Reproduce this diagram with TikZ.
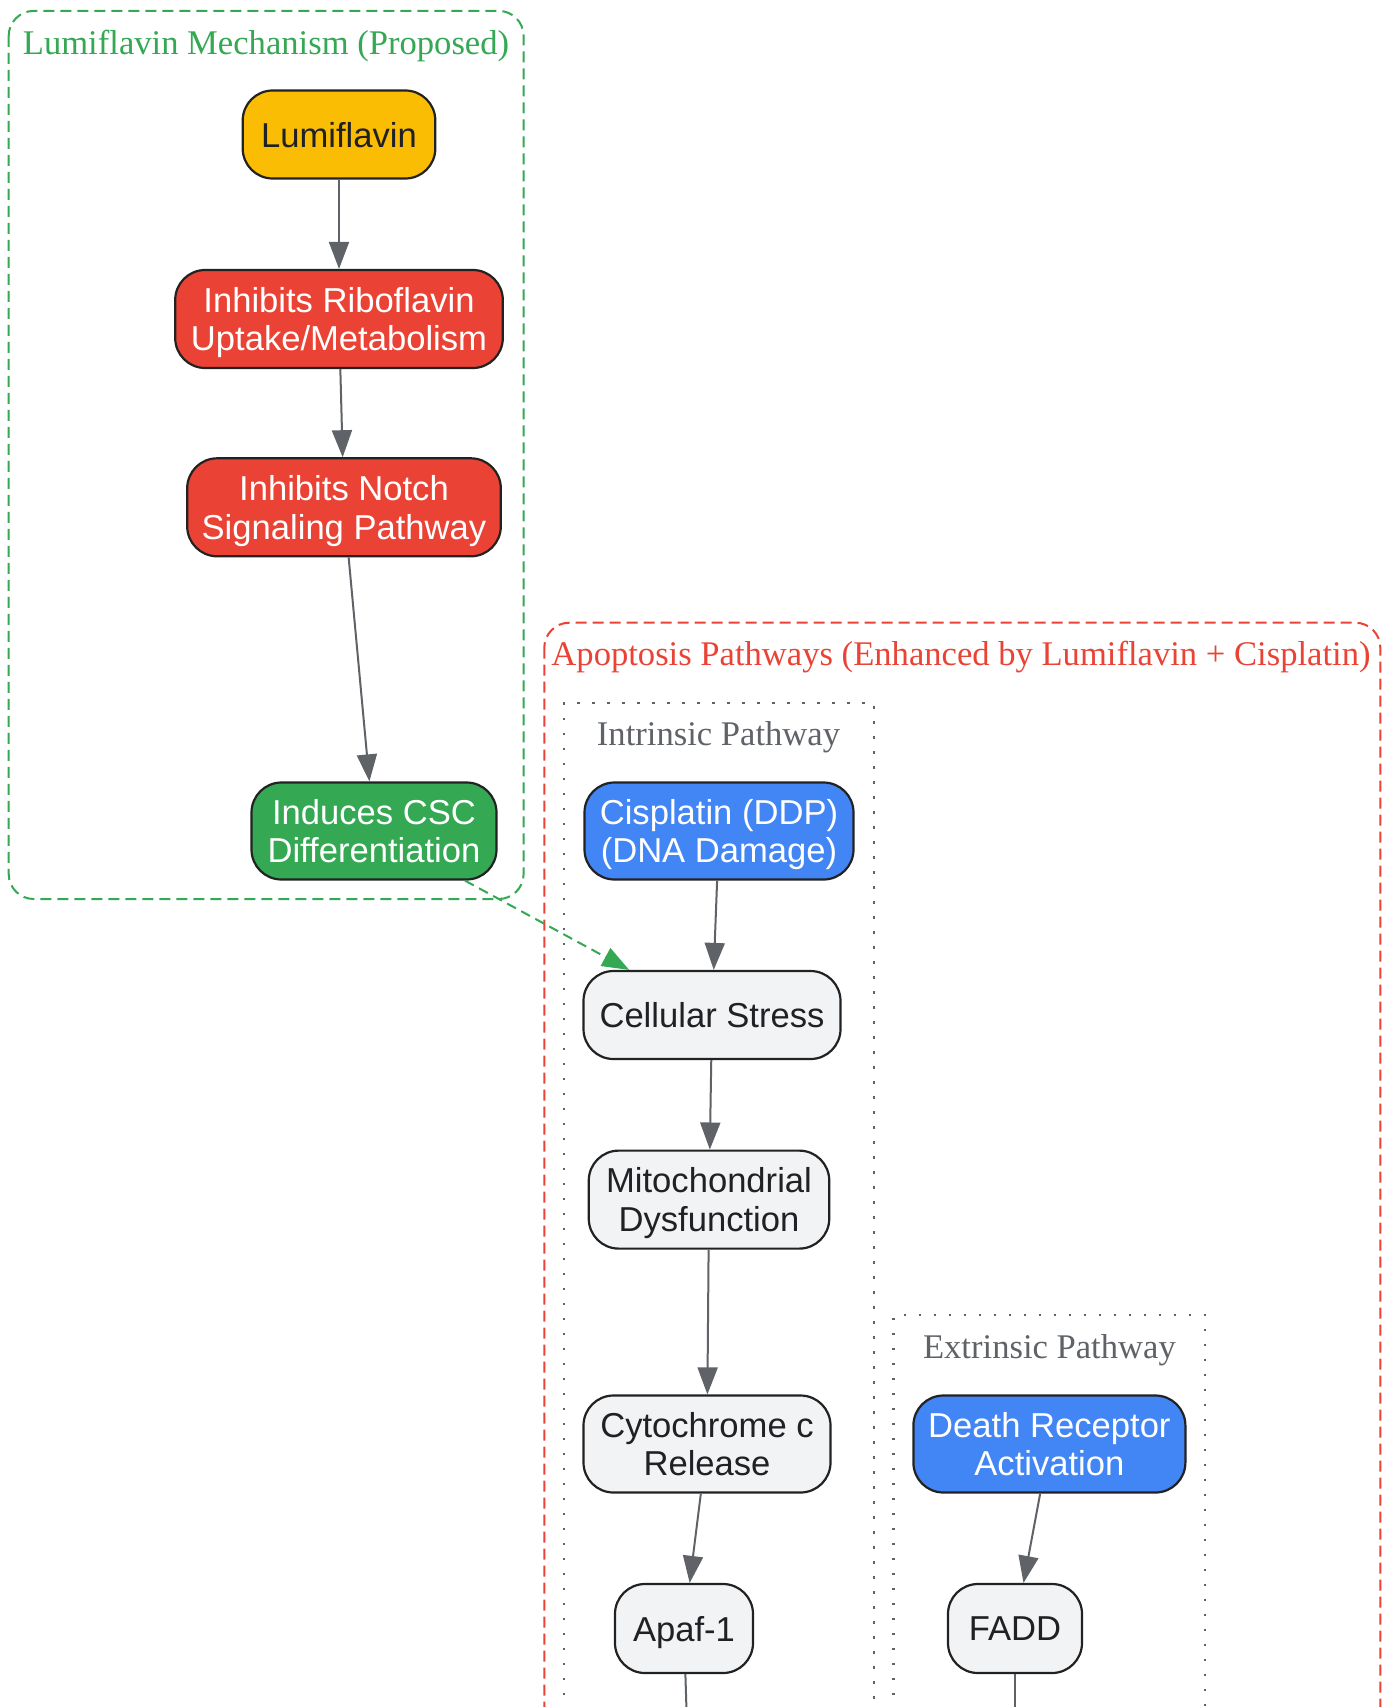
\documentclass[tikz,border=0pt]{standalone}
\usepackage{fontspec}
\usetikzlibrary{arrows.meta}
\newfontfamily\nodefont{Liberation Sans}
\newfontfamily\titlefont{Liberation Serif}
\definecolor{gyellow}{HTML}{FBBC04}
\definecolor{gred}{HTML}{EA4335}
\definecolor{ggreen}{HTML}{34A853}
\definecolor{gblue}{HTML}{4285F4}
\definecolor{ggray}{HTML}{F1F3F4}
\definecolor{gtext}{HTML}{202124}
\definecolor{gedge}{HTML}{5F6368}
\definecolor{gborder}{HTML}{222222}
\tikzset{
  box/.style={draw=gborder, line width=2.2pt, rounded corners=30pt, align=center,
    inner sep=0pt, text depth=0pt, font={\nodefont\fontsize{34.6}{38.5}\selectfont}},
  yellowbox/.style={box, fill=gyellow, text=gtext},
  redbox/.style={box, fill=gred, text=white},
  greenbox/.style={box, fill=ggreen, text=white},
  bluebox/.style={box, fill=gblue, text=white},
  graybox/.style={box, fill=ggray, text=gtext},
  edge/.style={draw=gedge, line width=2pt, -{Triangle[length=27pt,width=20pt]}},
  greenedge/.style={draw=ggreen, line width=2pt, dash pattern=on 10pt off 6pt,
    -{Triangle[length=27pt,width=20pt]}},
  cluster/.style={line width=2pt, rounded corners=25pt, dash pattern=on 11pt off 6pt},
  subcluster/.style={draw=gedge, line width=2.5pt, dash pattern=on 2.5pt off 12.5pt},
  ctitle/.style={font={\titlefont\fontsize{34.6}{40}\selectfont}, inner sep=0pt},
}
\begin{document}
\begin{tikzpicture}[x=1pt,y=-1pt]
\useasboundingbox (0,0) rectangle (1389,1707);
\clip (0,0) rectangle (1389,1707);
\fill[white] (0,0) rectangle (1389,1707);
% clusters
\draw[cluster, draw=ggreen] (8.7,10.9) rectangle (523.6,899);
\node[ctitle, text=ggreen] (t1) at (266,46) {Lumiflavin Mechanism (Proposed)};
\draw[cluster, draw=gred] (544.3,622.7) rectangle (1380.3,1800);
\node[ctitle, text=gred] (t2) at (961,657.5) {Apoptosis Pathways (Enhanced by Lumiflavin + Cisplatin)};
\draw[subcluster] (564,1800) -- (564,703) -- (874,703) -- (874,1800);
\node[ctitle, text=gedge] (t3) at (718.5,737.2) {Intrinsic Pathway};
\draw[subcluster] (893.7,1800) -- (893.7,1315) -- (1205,1315) -- (1205,1800);
\node[ctitle, text=gedge] (t4) at (1049.4,1350.1) {Extrinsic Pathway};
% nodes
\node[yellowbox, minimum width=192.6pt, minimum height=88pt] (lum) at (339,134.5) {Lumiflavin};
\node[redbox, minimum width=327.6pt, minimum height=98pt] (ribo) at (339,319) {Inhibits Riboflavin\\Uptake/Metabolism};
\node[redbox, minimum width=313.6pt, minimum height=98pt] (notch) at (344,507.3) {Inhibits Notch\\Signaling Pathway};
\node[greenbox, minimum width=245pt, minimum height=97pt] (csc) at (374,831) {Induces CSC\\Differentiation};
\node[bluebox, minimum width=269pt, minimum height=97pt] (ddp) at (719,831) {Cisplatin (DDP)\\(DNA Damage)};
\node[graybox, minimum width=257pt, minimum height=88pt] (stress) at (712,1015) {Cellular Stress};
\node[graybox, minimum width=240.5pt, minimum height=98pt] (mito) at (709,1199.6) {Mitochondrial\\Dysfunction};
\node[graybox, minimum width=247pt, minimum height=97pt] (cyto) at (707,1444) {Cytochrome c\\Release};
\node[graybox, minimum width=138pt, minimum height=89pt] (apaf) at (684,1628.5) {Apaf-1};
\node[bluebox, minimum width=272pt, minimum height=97pt] (dr) at (1049.4,1444) {Death Receptor\\Activation};
\node[graybox, minimum width=134pt, minimum height=89pt] (fadd) at (1015,1628.5) {FADD};
\coordinate (apafend) at (688,1760);
\coordinate (faddend) at (1015,1760);
% edges
\draw[edge] (lum) -- (ribo);
\draw[edge] (ribo) -- (notch);
\draw[edge] (notch) -- (csc);
\draw[greenedge] (csc) -- (stress);
\draw[edge] (ddp) -- (stress);
\draw[edge] (stress) -- (mito);
\draw[edge] (mito) -- (cyto);
\draw[edge] (cyto) -- (apaf);
\draw[edge] (dr) -- (fadd);
\draw[draw=gedge, line width=2pt] (apaf) -- (apafend);
\draw[draw=gedge, line width=2pt] (fadd) -- (faddend);
\end{tikzpicture}
\end{document}
